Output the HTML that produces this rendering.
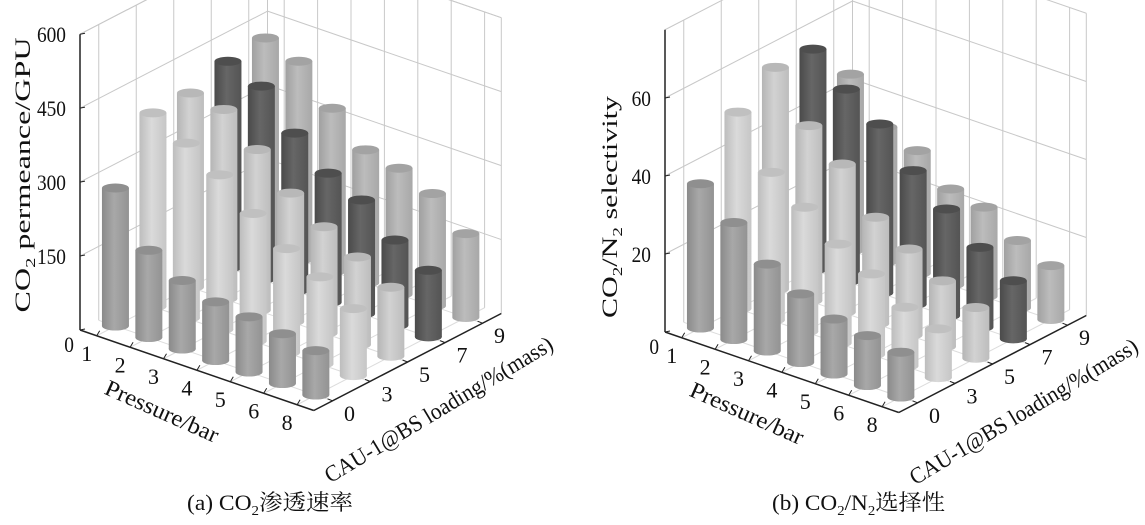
<!DOCTYPE html>
<html><head><meta charset="utf-8">
<style>
html,body{margin:0;padding:0;background:#fff;}
svg{display:block;}
text{font-family:"Liberation Serif","Noto Serif CJK SC",serif;fill:#111;}
</style></head>
<body>
<svg id="fig" width="1145" height="525" viewBox="0 0 1145 525" xmlns="http://www.w3.org/2000/svg">
<defs>
<linearGradient id="g0" x1="0" x2="1"><stop offset="0" stop-color="#8a8a8a"/><stop offset="0.45" stop-color="#a8a8a8"/><stop offset="1" stop-color="#939393"/></linearGradient>
<linearGradient id="g1" x1="0" x2="1"><stop offset="0" stop-color="#bdbdbd"/><stop offset="0.45" stop-color="#dadada"/><stop offset="1" stop-color="#c6c6c6"/></linearGradient>
<linearGradient id="g2" x1="0" x2="1"><stop offset="0" stop-color="#b5b5b5"/><stop offset="0.45" stop-color="#d2d2d2"/><stop offset="1" stop-color="#bdbdbd"/></linearGradient>
<linearGradient id="g3" x1="0" x2="1"><stop offset="0" stop-color="#4a4a4a"/><stop offset="0.45" stop-color="#666"/><stop offset="1" stop-color="#545454"/></linearGradient>
<linearGradient id="g4" x1="0" x2="1"><stop offset="0" stop-color="#a0a0a0"/><stop offset="0.45" stop-color="#bcbcbc"/><stop offset="1" stop-color="#a8a8a8"/></linearGradient>
</defs>
<text x="187" y="510" font-size="22" textLength="166" lengthAdjust="spacingAndGlyphs">(a) CO<tspan font-size="14" dy="5">2</tspan><tspan dy="-5">渗透速率</tspan></text>
<text x="772" y="510" font-size="22" textLength="173" lengthAdjust="spacingAndGlyphs">(b) CO<tspan font-size="14" dy="5">2</tspan><tspan dy="-5">/N</tspan><tspan font-size="14" dy="5">2</tspan><tspan dy="-5">选择性</tspan></text>
</svg>
<script>
const pressures = ['1','2','3','4','5','6','8'];
const loadings = ['0','3','5','7','9'];
const permeance = [
  [280,177,139,119,112,101,90],
  [393,355,314,259,211,177,136],
  [394,384,326,261,216,178,140],
  [419,392,320,262,231,173,135],
  [427,403,331,270,256,228,170]
];
const selectivity = [
  [37,30,22.3,17.6,14.1,12.8,11.5],
  [50.4,37.9,31.9,25.4,20.7,15.1,12.5],
  [56.9,44.9,38,27.3,22.1,16.9,13],
  [56.6,49.3,43.3,34.3,27.4,20.5,14.9],
  [45.2,34.6,31.5,24.6,22.9,17.3,13.8]
];
const permTicks = [0,150,300,450,600];
const selTicks = [0,20,40,60];

const NS='http://www.w3.org/2000/svg';
const svg=document.getElementById('fig');
function mk(tag,attrs,parent){const e=document.createElementNS(NS,tag);for(const k in attrs)e.setAttribute(k,attrs[k]);(parent||svg).appendChild(e);return e;}

function drawChart(cfg){
  const g=mk('g',{});
  
  
  const np=pressures.length, nl=loadings.length;
  const P=(a,b,z)=>[cfg.Lx+33.4*a+37.5*b, cfg.Ly+11.5*a-19.4*b-z*cfg.scale];
  const line=(p,q,st,w)=>mk('line',{x1:p[0],y1:p[1],x2:q[0],y2:q[1],stroke:st,'stroke-width':w},g);
  for(let i=0;i<np;i++){const l=line(P(i+0.5,0,0),P(i+0.5,nl,0),'#dcdcdc',1);}
  for(let j=0;j<nl;j++){const l=line(P(0,j+0.5,0),P(np,j+0.5,0),'#dcdcdc',1);}
  for(const t of cfg.ticks.concat([cfg.zmax])){
    if(t===0)continue;
    const a=line(P(0,0,t),P(0,nl,t),'#c8c8c8',1);
    const b=line(P(0,nl,t),P(np,nl,t),'#c8c8c8',1);
  }
  for(let j=0;j<=nl;j++){const b=(j===nl)?nl:j+0.5;const l=line(P(0,b,0),P(0,b,cfg.zmax),'#c8c8c8',1);}
  for(let i=0;i<=np;i++){const a=(i===np)?np:i+0.5;const l=line(P(a,nl,0),P(a,nl,cfg.zmax),'#c8c8c8',1);}
  const ax1=line(P(0,0,0),P(0,0,cfg.zmax),'#222',1.5);
  
  const ax2=line(P(0,0,0),P(np,0,0),'#222',1.5);
  
  const ax3=line(P(np,0,0),P(np,nl,0),'#222',1.5);
  
  cfg.ticks.forEach(t=>{
    const p=P(0,0,t);
    const tk=line(p,[p[0]+5,p[1]-1],'#222',1);
    
    const xx=p[0]-(t===0?6:14);
    const tx=mk('text',{x:xx,y:p[1]+(t===0?22:8),'font-size':22,'text-anchor':'end',transform:'translate('+xx+' 0) scale(0.88 1) translate('+(-xx)+' 0)'},g);
    tx.textContent=String(t);
    
  });
  pressures.forEach((lab,i)=>{
    const p=P(i+0.5,0,0);
    const tk=line(p,[p[0]+3,p[1]-5],'#222',1);
    
    const tx=mk('text',{x:p[0]-10,y:p[1]+25,'font-size':22,'text-anchor':'middle'},g);
    tx.textContent=lab;
    
  });
  loadings.forEach((lab,j)=>{
    const p=P(np,j+0.5,0);
    const tk=line(p,[p[0]-5,p[1]-2],'#222',1);
    
    const tx=mk('text',{x:p[0]+17,y:p[1]+20,'font-size':22,'text-anchor':'middle'},g);
    tx.textContent=lab;
    
  });
  const bars=[];
  for(let j=0;j<nl;j++)for(let i=0;i<np;i++)bars.push([i,j]);
  bars.sort((A,B)=>(P(A[0]+0.5,A[1]+0.5,0)[1])-(P(B[0]+0.5,B[1]+0.5,0)[1]));
  const rx=13.5, ry=4.5;
  bars.forEach(([i,j])=>{
    const v=cfg.data[j][i];
    const b=P(i+0.5,j+0.5,0), t=P(i+0.5,j+0.5,v);
    const bg=mk('g',{},g);
    
    
    mk('ellipse',{cx:b[0],cy:b[1],rx:rx,ry:ry,fill:'url(#g'+j+')'},bg);
    mk('rect',{x:t[0]-rx,y:t[1],width:2*rx,height:Math.max(0,b[1]-t[1]),fill:'url(#g'+j+')'},bg);
    mk('ellipse',{cx:t[0],cy:t[1],rx:rx,ry:ry,fill:cfg.topc[j]},bg);
  });
  const tp=P(3.5,0,0);
  const px=tp[0]-38, py=tp[1]+48;
  const pt=mk('text',{x:px,y:py,'font-size':23,'text-anchor':'middle',textLength:122,lengthAdjust:'spacingAndGlyphs',transform:'rotate(24 '+px+' '+py+')'},g);
  pt.textContent='Pressure/bar';
  
  const lp=P(np,2.5,0);
  const lx=lp[0]+35, ly=lp[1]+54;
  const lt=mk('text',{x:lx,y:ly,'font-size':23,'text-anchor':'middle',textLength:262,lengthAdjust:'spacingAndGlyphs',transform:'rotate(-31 '+lx+' '+ly+')'},g);
  lt.textContent='CAU-1@BS loading/%(mass)';
  
  const zt=mk('text',{x:cfg.ztx,y:cfg.zty,'font-size':22,'text-anchor':'middle',textLength:cfg.zlen,lengthAdjust:'spacingAndGlyphs',transform:'rotate(-90 '+cfg.ztx+' '+cfg.zty+')'},g);
  zt.innerHTML=cfg.ztitle;
  
}
const topc=['#8f8f8f','#c0c0c0','#b8b8b8','#4e4e4e','#a3a3a3'];
drawChart({name:'permeance-chart',Lx:80,Ly:330,scale:0.493,zmax:600,ticks:permTicks,data:permeance,topc:topc,
  ztx:30,zty:175,zlen:275,ztitle:'CO<tspan font-size="14" dy="5">2</tspan><tspan dy="-5"> permeance/GPU</tspan>'});
drawChart({name:'selectivity-chart',Lx:665,Ly:332,scale:3.9,zmax:77.5,ticks:selTicks,data:selectivity,topc:topc,
  ztx:617,zty:207,zlen:222,ztitle:'CO<tspan font-size="14" dy="5">2</tspan><tspan dy="-5">/N</tspan><tspan font-size="14" dy="5">2</tspan><tspan dy="-5"> selectivity</tspan>'});
</script>
</body></html>
